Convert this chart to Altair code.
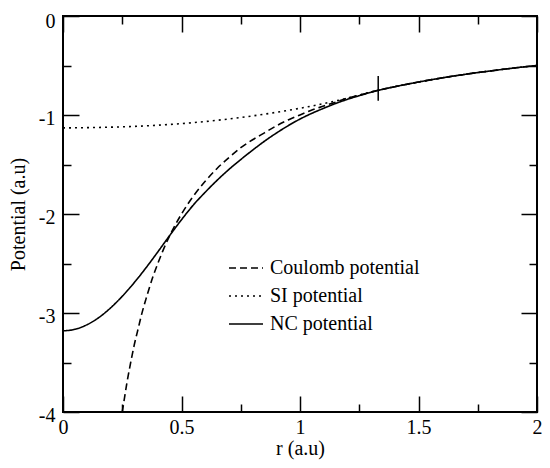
import altair as alt
import pandas as pd

# ---- data ----
coul_r = [0.25, 0.26, 0.27, 0.28, 0.30, 0.32, 0.33, 0.35, 0.36, 0.38, 0.40, 0.42, 0.45, 0.50,
          0.55, 0.60, 0.65, 0.70, 0.75, 0.80, 0.85, 0.90, 0.95, 1.00, 1.05, 1.10, 1.15,
          1.20, 1.25, 1.33, 1.40, 1.50, 1.60, 1.70, 1.75, 1.80, 1.90, 2.00]
coul_v = [-4.00, -3.85, -3.70, -3.57, -3.33, -3.13, -3.03, -2.86, -2.78, -2.63, -2.50, -2.38,
          -2.22, -2.00, -1.82, -1.67, -1.54, -1.43, -1.33, -1.25, -1.18, -1.11, -1.05, -1.00,
          -0.95, -0.91, -0.87, -0.83, -0.80, -0.75, -0.714, -0.667, -0.625, -0.588, -0.571,
          -0.556, -0.526, -0.50]

si_r = [0.0, 0.1, 0.2, 0.3, 0.4, 0.5, 0.6, 0.7, 0.8, 0.9, 1.0, 1.1, 1.2, 1.3, 1.33,
        1.40, 1.50, 1.60, 1.70, 1.80, 1.90, 2.00]
si_v = [-1.13, -1.128, -1.123, -1.115, -1.103, -1.087, -1.066, -1.040, -1.009, -0.973, -0.932,
        -0.885, -0.830, -0.768, -0.75, -0.714, -0.667, -0.625, -0.588, -0.556, -0.526, -0.50]

nc_r = [0.0, 0.05, 0.10, 0.15, 0.20, 0.25, 0.30, 0.35, 0.40, 0.45, 0.50, 0.55, 0.60, 0.65,
        0.70, 0.75, 0.80, 0.85, 0.90, 0.95, 1.00, 1.05, 1.10, 1.15, 1.20, 1.25, 1.30, 1.33,
        1.40, 1.50, 1.60, 1.70, 1.80, 1.90, 2.00]
nc_v = [-3.18, -3.165, -3.12, -3.048, -2.95, -2.831, -2.695, -2.544, -2.383, -2.218, -2.058,
        -1.909, -1.78, -1.66, -1.55, -1.45, -1.355, -1.265, -1.183, -1.108, -1.041, -0.983,
        -0.932, -0.884, -0.842, -0.805, -0.770, -0.751,
        -0.714, -0.667, -0.625, -0.588, -0.556, -0.526, -0.50]

marker_r = [1.33]
marker_lo = [-0.855]
marker_hi = [-0.605]

series_names = ["Coulomb potential", "SI potential", "NC potential"]
dash_styles = [[7, 4], [2, 4], [1, 0]]

x_major = [0, 0.5, 1, 1.5, 2]
x_minor = [0.25, 0.75, 1.25, 1.75]
y_major = [-4, -3, -2, -1, 0]
y_minor = [-3.5, -2.5, -1.5, -0.5]

coul = pd.DataFrame({"r": coul_r, "v": coul_v, "s": series_names[0]})
si = pd.DataFrame({"r": si_r, "v": si_v, "s": series_names[1]})
nc = pd.DataFrame({"r": nc_r, "v": nc_v, "s": series_names[2]})
mk = pd.DataFrame({"r": marker_r, "lo": marker_lo, "hi": marker_hi})

FONT = "Liberation Serif, Times New Roman, serif"
FS = 20
xs = alt.Scale(domain=[0, 2], nice=False, zero=False)
ys = alt.Scale(domain=[-4, 0], nice=False, zero=False)
dash = alt.Scale(domain=series_names, range=dash_styles)

lab = "'' + datum.value"

def xaxis(orient, values, size, labels=False, title=None):
    kw = dict(orient=orient, values=values, tickSize=size, offset=-size, domain=False,
              grid=False, tickColor="black", tickWidth=1.5, labels=labels)
    if labels:
        kw.update(labelFont=FONT, labelFontSize=FS, labelColor="black", labelPadding=5,
                  labelExpr=lab, labelFlush=False, labelOverlap=False)
    if title:
        kw.update(title=title, titleFont=FONT, titleFontSize=FS, titleFontWeight="normal",
                  titleColor="black", titlePadding=1)
    else:
        kw.update(title=None)
    return alt.Axis(**kw)

def yaxis(orient, values, size, labels=False, title=None):
    kw = dict(orient=orient, values=values, tickSize=size, offset=-size, domain=False,
              grid=False, tickColor="black", tickWidth=1.5, labels=labels)
    if labels:
        kw.update(labelFont=FONT, labelFontSize=FS, labelColor="black", labelPadding=8,
                  labelExpr=lab, labelFlush=False, labelOverlap=False,
                  labelOffset={"condition": {"test": "datum.value == 0", "value": 5}, "value": 3})
    if title:
        kw.update(title=title, titleFont=FONT, titleFontSize=FS, titleFontWeight="normal",
                  titleColor="black", titlePadding=10)
    else:
        kw.update(title=None)
    return alt.Axis(**kw)

legend = alt.Legend(orient="none", legendX=165, legendY=234, title=None,
                    symbolType="stroke", symbolSize=1156, symbolStrokeWidth=1.6,
                    symbolStrokeColor="black", labelFont=FONT, labelFontSize=FS,
                    labelColor="black", rowPadding=-7, labelOffset=6, padding=0)

def line_layer(df, ax_x, ax_y):
    return alt.Chart(df).mark_line(color="black", strokeWidth=1.6, interpolate="monotone").encode(
        x=alt.X("r:Q", scale=xs, axis=ax_x),
        y=alt.Y("v:Q", scale=ys, axis=ax_y),
        strokeDash=alt.StrokeDash("s:N", scale=dash, legend=legend, sort=series_names),
    )

l1 = line_layer(coul, xaxis("bottom", x_major, 16, labels=True, title="r (a.u)"),
                yaxis("left", y_major, 16, labels=True, title="Potential (a.u)"))
l2 = line_layer(si, xaxis("bottom", x_minor, 8), yaxis("left", y_minor, 8))
l3 = line_layer(nc, xaxis("top", x_major, 16), yaxis("right", y_major, 16))
l4 = alt.Chart(mk).mark_rule(color="black", strokeWidth=1.5).encode(
    x=alt.X("r:Q", scale=xs, axis=xaxis("top", x_minor, 8)),
    y=alt.Y("lo:Q", scale=ys, axis=yaxis("right", y_minor, 8)),
    y2="hi:Q",
)

chart = alt.layer(l1, l2, l3, l4).resolve_axis(x="independent", y="independent").properties(
    width=474, height=396,
    autosize=alt.AutoSizeParams(type="none"),
    padding={"left": 55, "top": 8, "right": 5, "bottom": 48},
    background="white",
).configure_view(stroke="black", strokeWidth=2)

chart.save("out.html", embed_options={"renderer": "svg", "actions": False})
